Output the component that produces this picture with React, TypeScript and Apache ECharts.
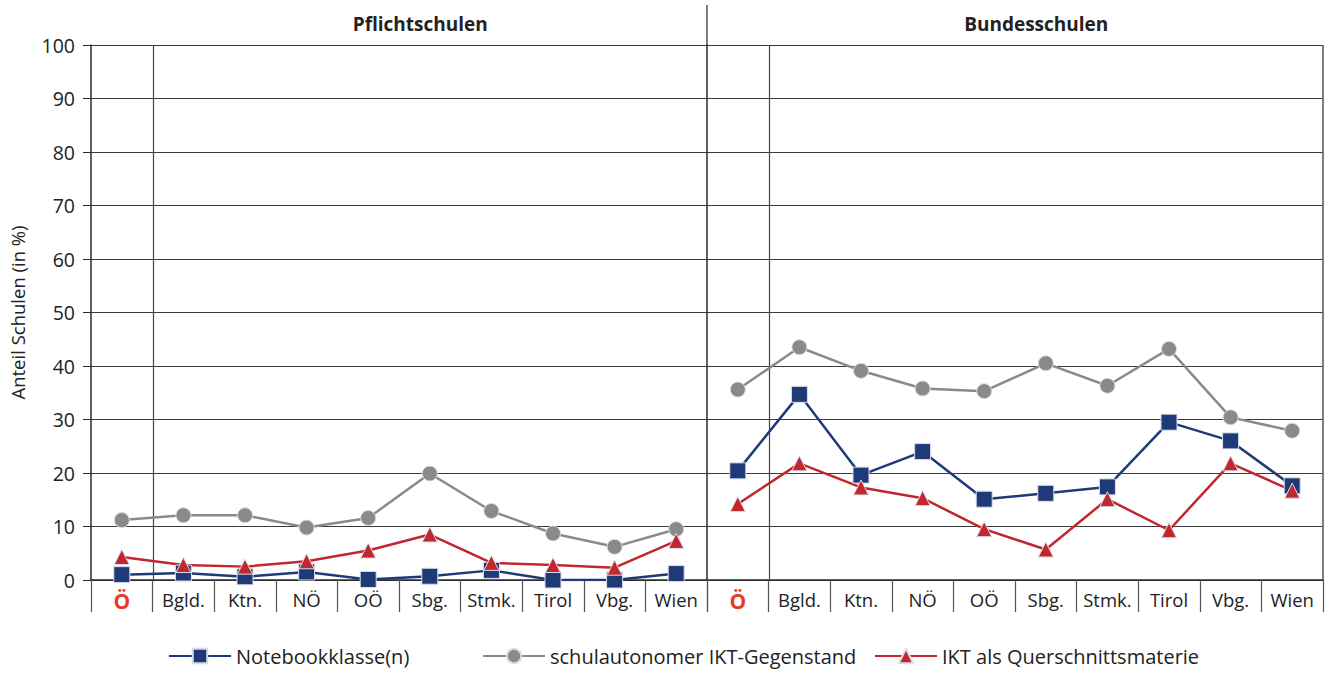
import React, { useEffect, useRef } from "react";
import * as echarts from "echarts";

const categories = ["Ö", "Bgld.", "Ktn.", "NÖ", "OÖ", "Sbg.", "Stmk.", "Tirol", "Vbg.", "Wien"];
const yTicks = [0, 10, 20, 30, 40, 50, 60, 70, 80, 90, 100];

const seriesNames = ["Notebookklasse(n)", "schulautonomer IKT-Gegenstand", "IKT als Querschnittsmaterie"];

// Pflichtschulen
const pNotebook = [1.0, 1.3, 0.6, 1.5, 0.1, 0.7, 1.8, 0.0, 0.0, 1.2];
const pAutonom = [11.2, 12.1, 12.1, 9.8, 11.6, 19.9, 12.9, 8.7, 6.2, 9.5];
const pQuer = [4.3, 2.8, 2.5, 3.5, 5.5, 8.5, 3.2, 2.8, 2.3, 7.3];

// Bundesschulen
const bNotebook = [20.4, 34.7, 19.6, 24.0, 15.1, 16.2, 17.4, 29.5, 26.0, 17.6];
const bAutonom = [35.6, 43.5, 39.1, 35.8, 35.3, 40.5, 36.3, 43.2, 30.4, 27.9];
const bQuer = [14.2, 21.8, 17.3, 15.3, 9.5, 5.7, 15.1, 9.3, 21.8, 16.7];

const panelTitles = ["Pflichtschulen", "Bundesschulen"];

const BLUE = "#1f3a78";
const GRAY = "#8a8a8a";
const RED = "#c1272d";
const AXIS = "#2a2a2a";
const FONT = "'Open Sans', 'Noto Sans', sans-serif";

export default function App() {
  const ref = useRef<HTMLDivElement>(null);
  useEffect(() => {
    if (!ref.current) return;
    const chart = echarts.init(ref.current, null, { renderer: "svg" });

    const xAxisFor = (gridIndex: number) => ({
      type: "category",
      gridIndex,
      data: categories,
      boundaryGap: true,
      axisLine: { show: true, lineStyle: { color: AXIS, width: 1.5 } },
      axisTick: { show: true, interval: 0, length: 32, alignWithLabel: false, lineStyle: { color: "#555", width: 1.2 } },
      axisLabel: {
        interval: 0,
        hideOverlap: false,
        margin: 10,
        fontFamily: FONT,
        fontSize: 18.5,
        color: "#222",
        formatter: (v: string) => (v === "Ö" ? "{o|" + v + "}" : v),
        rich: { o: { color: "#e8392b", fontSize: 21, fontWeight: "bold", fontFamily: FONT } },
      },
      splitLine: { show: false },
    });

    const yAxisFor = (gridIndex: number) => ({
      type: "value",
      gridIndex,
      min: 0,
      max: 100,
      interval: 10,
      name: gridIndex === 0 ? "Anteil Schulen (in %)" : "",
      nameLocation: "middle",
      nameGap: 64,
      nameTextStyle: { fontFamily: FONT, fontSize: 18.5, color: "#222" },
      axisLine: { show: true, lineStyle: { color: AXIS, width: 1.5 } },
      axisTick: { show: gridIndex === 0, length: 8, lineStyle: { color: AXIS } },
      axisLabel: {
        show: gridIndex === 0,
        margin: 16,
        fontFamily: FONT,
        fontSize: 19.5,
        color: "#222",
        formatter: (v: number) => (yTicks.includes(v) ? String(v) : ""),
      },
      splitLine: { show: true, lineStyle: { color: "#3a3a3a", width: 1.2 } },
    });

    const mk = (name: string, data: number[], gi: number, color: string, symbol: string, size: number) => ({
      type: "line",
      name,
      xAxisIndex: gi,
      yAxisIndex: gi,
      data,
      symbol,
      symbolSize: size,
      lineStyle: { color, width: 2.5 },
      itemStyle: { color, borderColor: "#d8dee9", borderWidth: 1 },
      z: 3,
    });

    const legendBase = {
      bottom: 4,
      itemWidth: 62,
      itemHeight: 18,
      itemGap: 8,
      textStyle: { fontFamily: FONT, fontSize: 20, color: "#222" },
    };

    chart.setOption({
      animation: false,
      backgroundColor: "#ffffff",
      grid: [
        { left: 91, right: 621, top: 45, bottom: 95 },
        { left: 707, right: 5, top: 45, bottom: 95 },
      ],
      xAxis: [xAxisFor(0), xAxisFor(1)],
      yAxis: [yAxisFor(0), yAxisFor(1)],
      legend: [
        { ...legendBase, left: 163, data: [seriesNames[0]] },
        { ...legendBase, left: 477, data: [seriesNames[1]] },
        { ...legendBase, left: 869, data: [seriesNames[2]] },
      ],
      series: [
        mk(seriesNames[0], pNotebook, 0, BLUE, "rect", 16),
        mk(seriesNames[1], pAutonom, 0, GRAY, "circle", 15),
        mk(seriesNames[2], pQuer, 0, RED, "triangle", 15),
        mk(seriesNames[0], bNotebook, 1, BLUE, "rect", 16),
        mk(seriesNames[1], bAutonom, 1, GRAY, "circle", 15),
        mk(seriesNames[2], bQuer, 1, RED, "triangle", 15),
      ],
    });

    // Separator lines between "Ö" and the federal states, computed from the axes
    const graphics: any[] = [];
    [0, 1].forEach((gi) => {
      const c0 = chart.convertToPixel({ xAxisIndex: gi }, categories[0]) as number;
      const c1 = chart.convertToPixel({ xAxisIndex: gi }, categories[1]) as number;
      const yTop = chart.convertToPixel({ yAxisIndex: gi }, 100) as number;
      const yBot = chart.convertToPixel({ yAxisIndex: gi }, 0) as number;
      const band = c1 - c0;
      const bx = Math.round((c0 + c1) / 2) + 0.5;
      const cLast = chart.convertToPixel({ xAxisIndex: gi }, categories[categories.length - 1]) as number;
      graphics.push({ type: "line", z: 1, shape: { x1: bx, y1: yTop, x2: bx, y2: yBot }, style: { stroke: "#444", lineWidth: 1.2 } });
      if (gi === 1) {
        const left = c0 - band / 2;
        const right = cLast + band / 2;
        graphics.push({ type: "line", shape: { x1: left, y1: 5, x2: left, y2: yTop }, style: { stroke: "#555", lineWidth: 1.5 } });
        graphics.push({ type: "line", shape: { x1: right, y1: yTop, x2: right, y2: yBot }, style: { stroke: "#555", lineWidth: 1.5 } });
      }
      const titleX = (bx + cLast + band / 2) / 2 - 10;
      graphics.push({
        type: "text",
        x: titleX,
        y: 24,
        style: { text: panelTitles[gi], font: "bold 19px " + FONT, fill: "#222", align: "center", verticalAlign: "middle" },
      });
    });
    chart.setOption({ graphic: graphics });

    return () => chart.dispose();
  }, []);
  return <div ref={ref} style={{ position: "absolute", left: 0, top: 0, width: 1328, height: 675 }} />;
}
